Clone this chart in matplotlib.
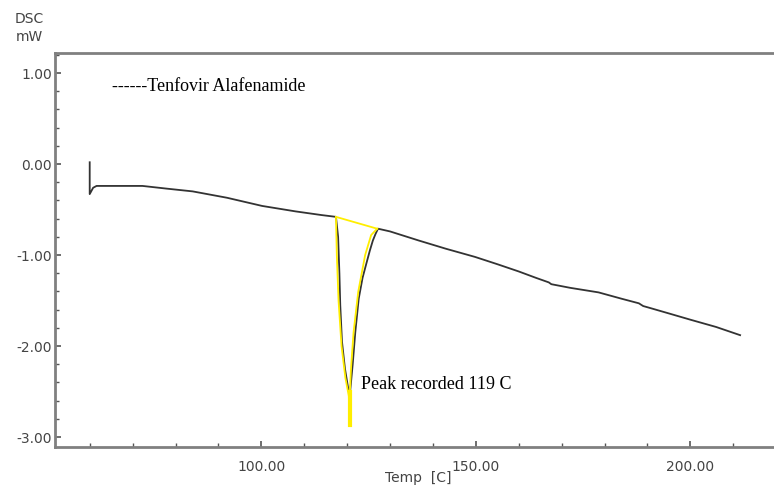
import matplotlib
matplotlib.use('Agg')
import matplotlib.pyplot as plt
from matplotlib.ticker import MultipleLocator, FormatStrFormatter

# DSC trace
temp = [60.0, 60.0, 60.8, 61.6, 66.0, 72.3, 78.0, 84.0, 92.0, 100.2, 108.0, 114.0, 117.4,
        117.9, 118.2, 118.4, 118.8, 119.5, 120.2, 120.6]
dsc = [0.02, -0.33, -0.26, -0.24, -0.24, -0.24, -0.27, -0.30, -0.37, -0.46, -0.52, -0.56, -0.58,
       -0.80, -1.20, -1.55, -1.95, -2.25, -2.45, -2.55]

temp_after = [120.6, 121.3, 121.9, 122.7, 123.6, 124.5, 125.3, 126.0, 126.6, 127.2,
              130.0, 136.7, 143.0, 149.8, 155.0, 160.0, 164.0, 167.0, 167.6, 172.0,
              178.6, 184.0, 188.0, 189.0, 190.5, 194.9, 200.0, 206.0, 211.6]
dsc_after = [-2.55, -2.20, -1.85, -1.48, -1.25, -1.09, -0.95, -0.84, -0.77, -0.71,
             -0.74, -0.84, -0.93, -1.02, -1.10, -1.18, -1.25, -1.30, -1.32, -1.36,
             -1.41, -1.48, -1.53, -1.56, -1.58, -1.64, -1.71, -1.79, -1.88]

# yellow integration outline
base_t = [117.4, 127.0]
base_v = [-0.58, -0.71]
left_t = [117.4, 117.6, 118.0, 118.7, 119.6, 120.4, 120.6]
left_v = [-0.58, -1.00, -1.50, -2.00, -2.35, -2.55, -2.87]
right_t = [127.0, 125.6, 124.2, 122.6, 121.5, 120.9, 120.6, 120.6]
right_v = [-0.71, -0.78, -1.00, -1.40, -1.85, -2.25, -2.55, -2.87]

fig = plt.figure(figsize=(7.74, 4.87), dpi=100)
ax = fig.add_axes([0.071, 0.082, 0.929, 0.809])

ax.plot(temp, dsc, color='#333333', lw=1.3)
ax.plot(temp_after, dsc_after, color='#333333', lw=1.3)
ax.plot(base_t, base_v, color='#ffee00', lw=1.3)
ax.plot(left_t, left_v, color='#ffee00', lw=1.3)
ax.plot(right_t, right_v, color='#ffee00', lw=1.3)
ax.plot([120.6, 120.6], [-2.5, -2.87], color='#ffee00', lw=3)

ax.set_xlim(51.9, 219.5)
ax.set_ylim(-3.11, 1.22)

ax.xaxis.set_major_locator(MultipleLocator(50))
ax.xaxis.set_minor_locator(MultipleLocator(10))
ax.yaxis.set_major_locator(MultipleLocator(1))
ax.yaxis.set_minor_locator(MultipleLocator(0.2))
ax.xaxis.set_major_formatter(FormatStrFormatter('%.2f'))
ax.yaxis.set_major_formatter(FormatStrFormatter('%.2f'))
ax.set_xticks([100, 150, 200])

ax.tick_params(which='both', direction='in', color='#555555', labelcolor='#444444',
               labelsize=10)
ax.tick_params(which='major', length=4, width=1.2)
ax.tick_params(which='minor', length=3, width=1.0)
ax.tick_params(axis='x', pad=9)
ax.tick_params(axis='y', pad=2)

for s in ['left', 'top', 'bottom']:
    ax.spines[s].set_color('#808080')
    ax.spines[s].set_linewidth(2)
ax.spines['right'].set_visible(False)

fig.text(0.038, 0.962, 'DSC', ha='center', va='center', fontsize=10, color='#444444')
fig.text(0.038, 0.924, 'mW', ha='center', va='center', fontsize=10, color='#444444')
fig.text(0.540, 0.018, 'Temp  [C]', ha='center', va='center', fontsize=10, color='#444444')

ax.text(0.080, 0.915, '------Tenfovir Alafenamide', transform=ax.transAxes,
        family='Liberation Serif', fontsize=13, color='black', va='center')
ax.text(123.2, -2.42, 'Peak recorded 119 C', family='Liberation Serif', fontsize=13,
        color='black', va='center')

fig.savefig('out.png', dpi=100)
